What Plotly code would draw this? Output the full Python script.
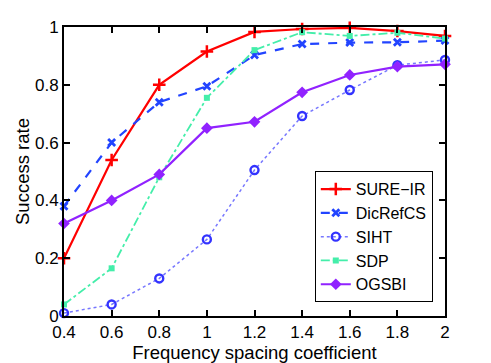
import plotly.graph_objects as go

x_vals = [0.4, 0.6, 0.8, 1.0, 1.2, 1.4, 1.6, 1.8, 2.0]
sure_ir = [0.20, 0.54, 0.80, 0.915, 0.983, 0.993, 0.997, 0.986, 0.969]
dicrefcs = [0.38, 0.60, 0.74, 0.795, 0.903, 0.941, 0.946, 0.947, 0.953]
siht = [0.01, 0.04, 0.13, 0.265, 0.505, 0.692, 0.782, 0.868, 0.886]
sdp = [0.04, 0.165, 0.48, 0.755, 0.92, 0.982, 0.969, 0.98, 0.96]
ogsbi = [0.32, 0.40, 0.49, 0.65, 0.672, 0.774, 0.834, 0.863, 0.871]

x_ticks = [0.4, 0.6, 0.8, 1.0, 1.2, 1.4, 1.6, 1.8, 2.0]
x_ticklabels = ["0.4", "0.6", "0.8", "1", "1.2", "1.4", "1.6", "1.8", "2"]
y_ticks = [0, 0.2, 0.4, 0.6, 0.8, 1.0]
y_ticklabels = ["0", "0.2", "0.4", "0.6", "0.8", "1"]

FONT = "Liberation Sans, Arial, sans-serif"

fig = go.Figure()
fig.add_trace(go.Scatter(x=x_vals, y=sure_ir, name="SURE\u2212IR", mode="lines+markers",
    line=dict(color="#ff0000", width=2.2),
    marker=dict(symbol="cross-thin", size=9, line=dict(color="#ff0000", width=2.5)),
    cliponaxis=False))
fig.add_trace(go.Scatter(x=x_vals, y=dicrefcs, name="DicRefCS", mode="lines+markers",
    line=dict(color="#2244ff", width=2.2, dash="dash"),
    marker=dict(symbol="x-thin", size=7, line=dict(color="#2244ff", width=2.8)),
    cliponaxis=False))
fig.add_trace(go.Scatter(x=x_vals, y=siht, name="SIHT", mode="lines+markers",
    line=dict(color="#7777ff", width=1.5, dash="dot"),
    marker=dict(symbol="circle-open", size=8, color="#3333ff", line=dict(color="#3333ff", width=2.4)),
    cliponaxis=False))
fig.add_trace(go.Scatter(x=x_vals, y=sdp, name="SDP", mode="lines+markers",
    line=dict(color="#44eeaa", width=1.8, dash="dashdot"),
    marker=dict(symbol="square", size=6, color="#44eeaa"),
    cliponaxis=False))
fig.add_trace(go.Scatter(x=x_vals, y=ogsbi, name="OGSBI", mode="lines+markers",
    line=dict(color="#9122ff", width=2.2),
    marker=dict(symbol="diamond", size=9, color="#9122ff"),
    cliponaxis=False))

axis_common = dict(showline=True, linecolor="black", linewidth=2, mirror="ticks",
                   ticks="inside", ticklen=6, tickwidth=2, tickcolor="black",
                   showgrid=False, zeroline=False,
                   tickfont=dict(family=FONT, size=17, color="black"))

fig.update_xaxes(range=[0.4, 2.0], tickvals=x_ticks, ticktext=x_ticklabels,
                 title=dict(text="Frequency spacing coefficient", standoff=3,
                            font=dict(family=FONT, size=18.5, color="black")),
                 **axis_common)
fig.update_yaxes(range=[0, 1.0], tickvals=y_ticks, ticktext=y_ticklabels,
                 title=dict(text="Success rate", standoff=0,
                            font=dict(family=FONT, size=18.5, color="black")),
                 **axis_common)

# The page body has an 8px default margin, so the figure is offset by 8px.
fig.update_layout(
    width=483, height=355,
    margin=dict(l=56, r=46, t=19, b=47, autoexpand=False),
    paper_bgcolor="white", plot_bgcolor="white",
    showlegend=True,
    legend=dict(x=0.968, y=0.048, xanchor="right", yanchor="bottom",
                bgcolor="white", bordercolor="black", borderwidth=1,
                font=dict(family=FONT, size=16, color="black"),
                tracegroupgap=0, itemwidth=30),
)

fig.write_html("out.html")
